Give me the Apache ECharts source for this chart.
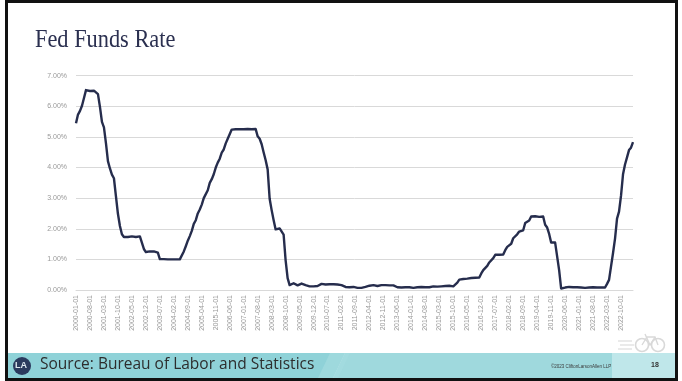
<!DOCTYPE html>
<html>
<head>
<meta charset="utf-8">
<script src="https://cdn.jsdelivr.net/npm/echarts@6/dist/echarts.min.js"></script>
<style>
html,body{margin:0;padding:0;background:#fff;}
#c{width:682px;height:381px;}
</style>
</head>
<body>
<div id="c"></div>
<script>
// Monthly effective federal funds rate (%), 2000-01 .. 2023-04
const startYear = 2000, startMonth = 1, monthCount = 280;
const rate2000 = [5.45,5.73,5.85,6.02,6.27,6.53,6.54,6.50,6.52,6.51,6.51,6.40];
const rate2001 = [5.98,5.49,5.31,4.80,4.21,3.97,3.77,3.65,3.07,2.49,2.09,1.82];
const rate2002 = [1.73,1.74,1.73,1.75,1.75,1.75,1.73,1.74,1.75,1.75,1.34,1.24];
const rate2003 = [1.24,1.26,1.25,1.26,1.26,1.22,1.01,1.03,1.01,1.01,1.00,0.98];
const rate2004 = [1.00,1.01,1.00,1.00,1.00,1.03,1.26,1.43,1.61,1.76,1.93,2.16];
const rate2005 = [2.28,2.50,2.63,2.79,3.00,3.04,3.26,3.50,3.62,3.78,4.00,4.16];
const rate2006 = [4.29,4.49,4.59,4.79,4.94,4.99,5.24,5.25,5.25,5.25,5.25,5.24];
const rate2007 = [5.25,5.26,5.26,5.25,5.25,5.25,5.26,5.02,4.94,4.76,4.49,4.24];
const rate2008 = [3.94,2.98,2.61,2.28,1.98,2.00,2.01,2.00,1.81,0.97,0.39,0.16];
const rate2009 = [0.15,0.22,0.18,0.15,0.18,0.21,0.16,0.16,0.15,0.12,0.12,0.12];
const rate2010 = [0.11,0.13,0.16,0.20,0.20,0.18,0.18,0.19,0.19,0.19,0.19,0.18];
const rate2011 = [0.17,0.16,0.14,0.10,0.09,0.09,0.07,0.10,0.08,0.07,0.08,0.07];
const rate2012 = [0.08,0.10,0.13,0.14,0.16,0.16,0.16,0.13,0.14,0.16,0.16,0.16];
const rate2013 = [0.14,0.15,0.14,0.15,0.11,0.09,0.09,0.08,0.08,0.09,0.08,0.09];
const rate2014 = [0.07,0.07,0.08,0.09,0.09,0.10,0.09,0.09,0.09,0.09,0.09,0.12];
const rate2015 = [0.11,0.11,0.11,0.12,0.12,0.13,0.13,0.14,0.14,0.12,0.12,0.24];
const rate2016 = [0.34,0.38,0.36,0.37,0.37,0.38,0.39,0.40,0.40,0.40,0.41,0.54];
const rate2017 = [0.65,0.66,0.79,0.90,0.91,1.04,1.15,1.16,1.15,1.15,1.16,1.30];
const rate2018 = [1.41,1.42,1.51,1.69,1.70,1.82,1.91,1.91,1.95,2.19,2.20,2.27];
const rate2019 = [2.40,2.40,2.41,2.42,2.39,2.38,2.40,2.13,2.04,1.83,1.55,1.55];
const rate2020 = [1.55,1.58,0.65,0.05,0.05,0.08,0.09,0.10,0.09,0.09,0.09,0.09];
const rate2021 = [0.09,0.08,0.07,0.07,0.06,0.08,0.10,0.09,0.08,0.08,0.08,0.08];
const rate2022 = [0.08,0.08,0.20,0.33,0.77,1.21,1.68,2.33,2.56,3.08,3.78,4.10];
const rate2023 = [4.33,4.57,4.65,4.83];

const rates = [].concat(rate2000,rate2001,rate2002,rate2003,rate2004,rate2005,rate2006,
  rate2007,rate2008,rate2009,rate2010,rate2011,rate2012,rate2013,rate2014,rate2015,
  rate2016,rate2017,rate2018,rate2019,rate2020,rate2021,rate2022,rate2023);

const categories = [];
for (let i = 0; i < monthCount; i++) {
  const y = startYear + Math.floor((startMonth - 1 + i) / 12);
  const m = (startMonth - 1 + i) % 12 + 1;
  categories.push(y + '-' + String(m).padStart(2, '0') + '-01');
}

const yTicks = [0, 1, 2, 3, 4, 5, 6, 7];

const chart = echarts.init(document.getElementById('c'), null, {renderer: 'canvas'});
chart.setOption({
  animation: false,
  backgroundColor: '#ffffff',
  grid: {left: 76, right: 49, top: 75.7, bottom: 91, containLabel: false},
  xAxis: {
    type: 'category',
    data: categories,
    boundaryGap: false,
    axisLine: {show: true, lineStyle: {color: '#d9d9d9', width: 1}},
    axisTick: {show: false},
    axisLabel: {
      interval: 6,
      rotate: 90,
      color: '#999999',
      fontSize: 7,
      fontFamily: 'Liberation Sans',
      margin: 5
    },
    splitLine: {show: false}
  },
  yAxis: {
    type: 'value',
    min: yTicks[0],
    max: yTicks[yTicks.length - 1],
    interval: 1,
    axisLine: {show: false},
    axisTick: {show: false},
    axisLabel: {
      color: '#999999',
      fontSize: 7,
      fontFamily: 'Liberation Sans',
      margin: 9,
      formatter: v => v.toFixed(2) + '%'
    },
    splitLine: {lineStyle: {color: '#d9d9d9', width: 1}}
  },
  series: [{
    type: 'line',
    data: rates,
    symbol: 'none',
    lineStyle: {color: '#262d4d', width: 2.4, join: 'round'},
    z: 5
  }],
  graphic: [
    // bottom band
    {type: 'polygon', shape: {points: [[8,353],[345,353],[333,378],[8,378]]}, style: {fill: '#8fd2d8'}, z: 1},
    {type: 'polygon', shape: {points: [[345,353],[612,353],[612,378],[333,378]]}, style: {fill: '#9fd9dd'}, z: 1},
    {type: 'polygon', shape: {points: [[330,353],[350,353],[338,378],[318,378]]}, style: {fill: '#a4dbdf', opacity: 0.7}, z: 1},
    {type: 'rect', shape: {x: 612, y: 353, width: 64, height: 25}, style: {fill: '#bfe7ea'}, z: 1},
    // logo
    {type: 'circle', shape: {cx: 22, cy: 366, r: 9}, style: {fill: '#2b3a5e'}, z: 2},
    {type: 'text', left: 15, top: 361, style: {text: 'LA', fill: '#dfe8f0', font: 'bold 9px "Liberation Sans"'}, z: 3},
    // footer text
    {type: 'text', left: 40, top: 357, style: {text: 'Source: Bureau of Labor and Statistics', fill: '#2d2d2d', font: '15.5px "Open Sans"'}, z: 3},
    {type: 'text', left: 551, top: 364, style: {text: '\u00a92023 CliftonLarsonAllen LLP', fill: '#3a3a3a', font: '4.5px "Liberation Sans"'}, z: 3},
    {type: 'text', left: 651, top: 362, style: {text: '18', fill: '#333333', font: 'bold 7px "Liberation Sans"'}, z: 3},
    // bicycle icon
    {type: 'circle', shape: {cx: 642, cy: 345, r: 6.5}, style: {fill: 'none', stroke: '#d9d9d9', lineWidth: 1.6}, z: 2},
    {type: 'circle', shape: {cx: 658, cy: 345, r: 6.5}, style: {fill: 'none', stroke: '#d9d9d9', lineWidth: 1.6}, z: 2},
    {type: 'polyline', shape: {points: [[642,345],[647,337],[655,337],[658,345]]}, style: {stroke: '#d9d9d9', lineWidth: 1.4, fill: 'none'}, z: 2},
    {type: 'polyline', shape: {points: [[645,334],[650,345],[655,337]]}, style: {stroke: '#d9d9d9', lineWidth: 1.4, fill: 'none'}, z: 2},
    {type: 'line', shape: {x1: 618, y1: 341, x2: 632, y2: 341}, style: {stroke: '#dcdcdc', lineWidth: 1.2}, z: 2},
    {type: 'line', shape: {x1: 620, y1: 345, x2: 634, y2: 345}, style: {stroke: '#dcdcdc', lineWidth: 1.2}, z: 2},
    {type: 'line', shape: {x1: 618, y1: 349, x2: 632, y2: 349}, style: {stroke: '#dcdcdc', lineWidth: 1.2}, z: 2},
    // title
    {type: 'text', x: 35, y: 27, scaleX: 0.86, style: {text: 'Fed Funds Rate', fill: '#2b3050', font: '26px "Liberation Serif"'}, z: 3},
    // slide border
    {type: 'rect', shape: {x: 6.5, y: 1.5, width: 670, height: 378}, style: {fill: 'none', stroke: '#111111', lineWidth: 3}, z: 10}
  ]
});
</script>
</body>
</html>
